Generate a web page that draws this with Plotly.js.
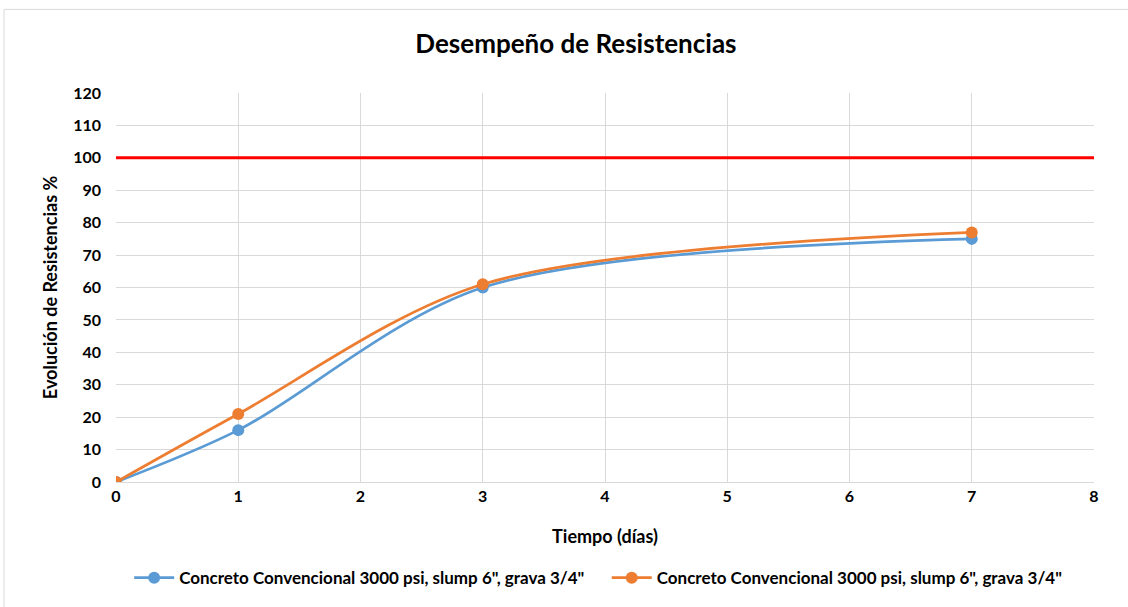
<!DOCTYPE html>
<html>
<head>
<meta charset="utf-8">
<script src="https://cdn.plot.ly/plotly-3.0.1.min.js"></script>
<style>html,body{margin:0;padding:0;background:#fff;}#chart{width:1128px;height:607px;}</style>
</head>
<body>
<div id="chart"></div>
<script>
const dias = [0, 1, 3, 7];
const serieA = [0, 16, 60, 75];
const serieB = [0, 21, 61, 77];
const nombreA = 'Concreto Convencional 3000 psi, slump 6", grava 3/4"';
const nombreB = 'Concreto Convencional 3000 psi, slump 6", grava 3/4"';
const objetivo = 100;
const xTicks = [0, 1, 2, 3, 4, 5, 6, 7, 8];
const yTicks = [0, 10, 20, 30, 40, 50, 60, 70, 80, 90, 100, 110, 120];

const FONT = 'Lato, "Open Sans", sans-serif';
const GAP = '\u00a0\u00a0\u00a0\u00a0';

const traces = [
  {x: dias, y: serieA, name: '<b>' + nombreA + '</b>' + GAP, mode: 'lines+markers',
   line: {color: '#5b9bd5', width: 2.75, shape: 'spline', smoothing: 0.9},
   marker: {color: '#5b9bd5', size: 12}},
  {x: dias, y: serieB, name: '<b>' + nombreB + '</b>', mode: 'lines+markers',
   line: {color: '#ed7d31', width: 2.75, shape: 'spline', smoothing: 0.9},
   marker: {color: '#ed7d31', size: 12}}
];

const layout = {
  width: 1128, height: 607,
  margin: {l: 116, r: 34, t: 93, b: 124},
  paper_bgcolor: '#fff', plot_bgcolor: '#fff',
  font: {family: FONT, color: '#000'},
  title: {text: '<b>Desempeño de Resistencias</b>', font: {size: 26, family: FONT, color: '#000'}, x: 0.5106, xanchor: 'center', y: 0.927, yanchor: 'middle'},
  xaxis: {range: [0, 8], tickvals: xTicks, ticktext: xTicks.map(v => '<b>' + v + '</b>'),
    showgrid: true, gridcolor: '#d9d9d9', gridwidth: 1, zeroline: false,
    showline: true, linecolor: '#d9d9d9', ticks: '', tickfont: {size: 16, family: FONT},
    title: {text: '<b>Tiempo (días)</b>', font: {size: 18, family: FONT}, standoff: 26}, fixedrange: true},
  yaxis: {range: [0, 120], tickvals: yTicks, ticktext: yTicks.map(v => '<b>' + v + '</b>'),
    showgrid: true, gridcolor: '#d9d9d9', gridwidth: 1, zeroline: false,
    showline: false, ticks: '', tickfont: {size: 16, family: FONT}, ticklabelstandoff: 14,
    title: {text: '<b>Evolución de Resistencias %</b>', font: {size: 18, family: FONT}, standoff: 10}, fixedrange: true},
  shapes: [
    {type: 'line', xref: 'paper', x0: 0, x1: 1, yref: 'y', y0: objetivo, y1: objetivo, line: {color: '#ff0000', width: 3}},
    {type: 'rect', xref: 'paper', yref: 'paper', x0: -0.1145, x1: 1.04, y0: -0.4, y1: 1.215, line: {color: '#d9d9d9', width: 1}, layer: 'below'}
  ],
  legend: {orientation: 'h', x: 0.493, xanchor: 'center', y: -0.244, yanchor: 'middle', bgcolor: 'rgba(0,0,0,0)', font: {size: 17, family: FONT}, traceorder: 'normal', itemwidth: 40},
  showlegend: true
};

Plotly.newPlot('chart', traces, layout, {displayModeBar: false, staticPlot: true});
</script>
</body>
</html>
